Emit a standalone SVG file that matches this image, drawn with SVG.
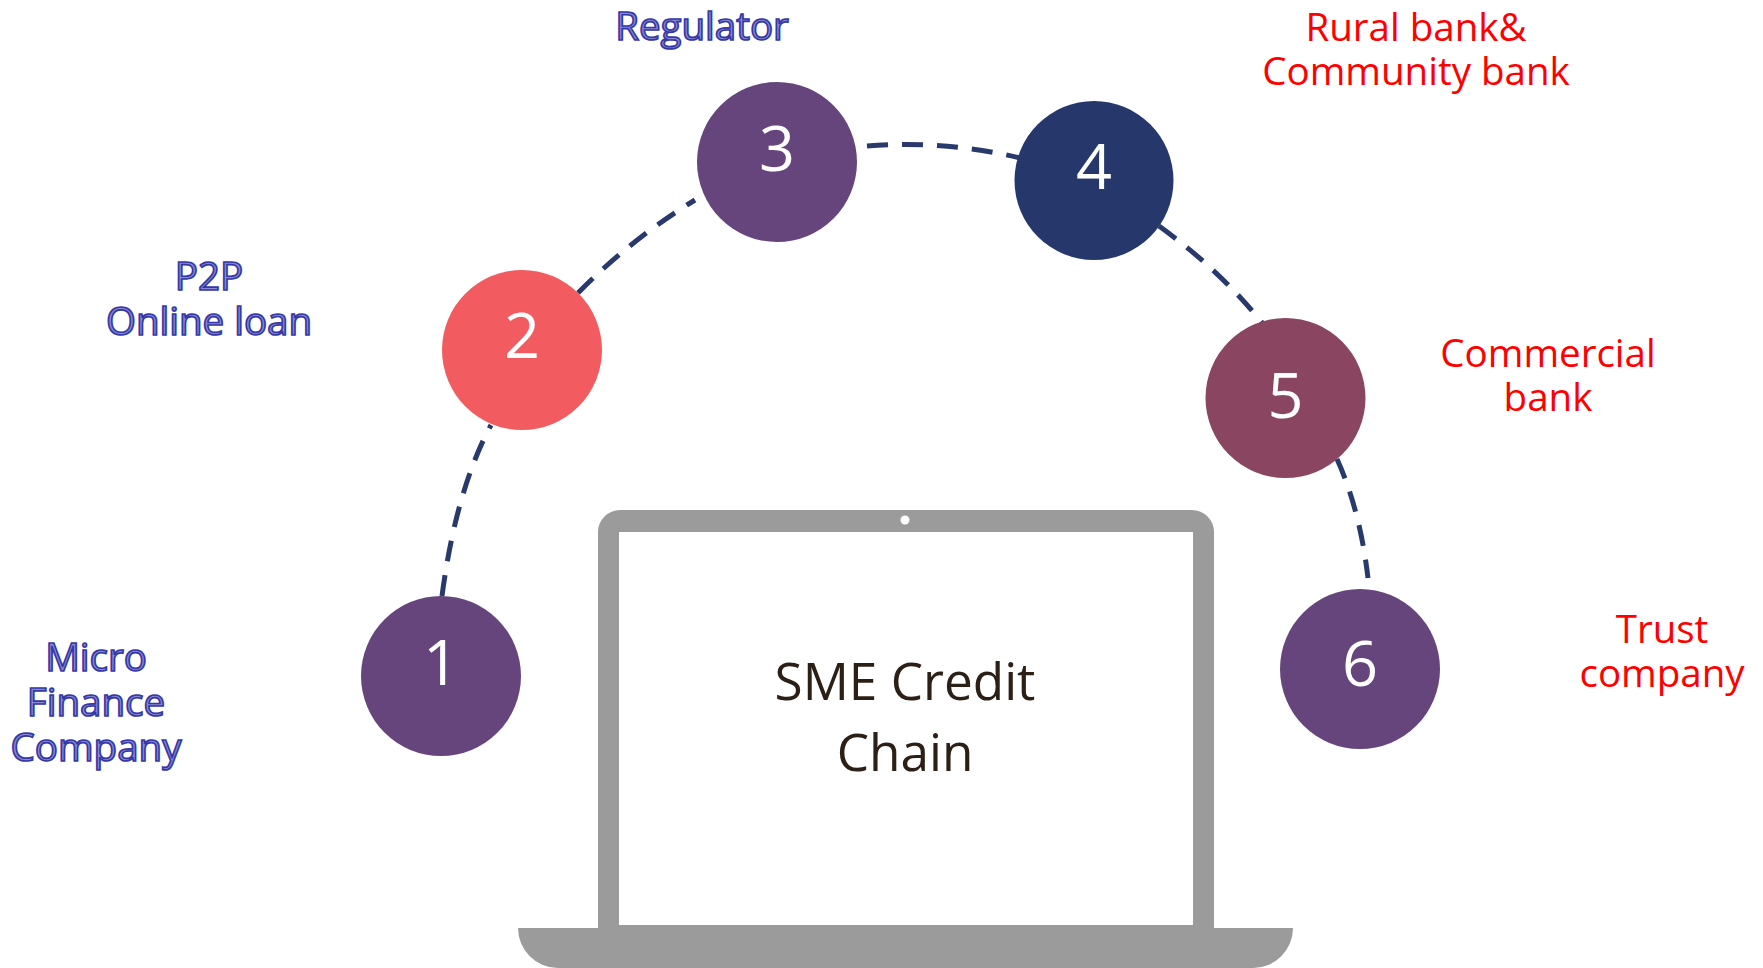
<svg xmlns="http://www.w3.org/2000/svg" width="1763" height="968" viewBox="0 0 1763 968">
<style>
text{font-family:"Open Sans","Noto Sans","Liberation Sans",sans-serif;text-anchor:middle}
.num{font-size:63px;fill:#fff}
.blue{font-size:38.500px;fill:#8a8ad4;stroke:#3438a6;stroke-width:1.700px}
.red{font-size:38.500px;fill:#ff0000}
.title{font-size:51.300px;fill:#2c2016}
.dash{fill:none;stroke:#28396b;stroke-width:5;stroke-dasharray:21 14}
.lap{fill:#9b9b9b}
</style>
<rect width="1763" height="968" fill="#fff"/>
<g id="laptop">
<path class="lap" d="M598 928V532A22 22 0 0 1 620 510H1192A22 22 0 0 1 1214 532V928H1293A40 40 0 0 1 1253 968H558A40 40 0 0 1 518 928Z"/>
<rect x="619" y="532" width="574" height="393" fill="#fff"/>
<circle cx="905" cy="520" r="4.500" fill="#fff"/>
<text class="title" x="905" y="700">SME Credit</text>
<text class="title" x="905" y="771">Chain</text>
</g>
<g id="connectors">
<path class="dash" d="M442 596Q456 490 491 425"/>
<path class="dash" d="M578 293Q630 240 695 200"/>
<path class="dash" d="M867 146Q945 140 1020 158"/>
<path class="dash" d="M1159 226Q1220 270 1263 324"/>
<path class="dash" d="M1337 459Q1360 510 1368 578"/>
</g>
<g id="node1"><circle cx="441" cy="676" r="80" fill="#65457c"/><text class="num" x="441" y="685">1</text></g>
<g id="node2"><circle cx="522" cy="350" r="80" fill="#f25b60"/><text class="num" x="522" y="358">2</text></g>
<g id="node3"><circle cx="777" cy="162" r="80" fill="#65457c"/><text class="num" x="777" y="171">3</text></g>
<g id="node4"><circle cx="1094" cy="180.500" r="79.500" fill="#26386b"/><text class="num" x="1094" y="189">4</text></g>
<g id="node5"><circle cx="1285.500" cy="398" r="80" fill="#8a4660"/><text class="num" x="1285.500" y="418">5</text></g>
<g id="node6"><circle cx="1360" cy="669" r="80" fill="#65457c"/><text class="num" x="1360" y="686">6</text></g>
<g id="labels">
<text class="blue" x="96" y="671">Micro</text>
<text class="blue" x="96" y="716">Finance</text>
<text class="blue" x="96" y="761">Company</text>
<text class="blue" x="209" y="290">P2P</text>
<text class="blue" x="209" y="335">Online loan</text>
<text class="blue" x="702" y="40">Regulator</text>
<text class="red" x="1416" y="41">Rural bank&amp;</text>
<text class="red" x="1416" y="85">Community bank</text>
<text class="red" x="1548" y="367">Commercial</text>
<text class="red" x="1548" y="411">bank</text>
<text class="red" x="1662" y="643">Trust</text>
<text class="red" x="1662" y="687">company</text>
</g>
</svg>
